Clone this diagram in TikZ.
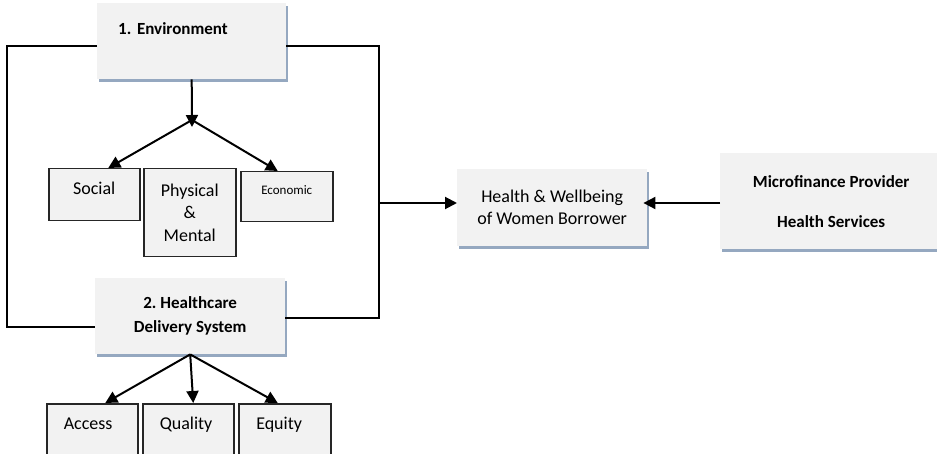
\documentclass[tikz,border=0pt]{standalone}
\usepackage{fontspec}
\setmainfont{Carlito}
\usepackage{xcolor}
\usepackage{tikz}
\usetikzlibrary{arrows.meta, shadows, calc}

\definecolor{boxfill}{HTML}{F2F2F2}
\definecolor{shadowblue}{HTML}{95A8C0}

\begin{document}
\frenchspacing
\begin{tikzpicture}[
    x=1pt, y=-1pt,
    every node/.style={inner sep=0pt},
    mainbox/.style={anchor=north west, fill=boxfill, drop shadow={shadow xshift=2pt, shadow yshift=-3pt, fill=shadowblue, opacity=1}, font=\fontsize{18}{22}\selectfont},
    subbox/.style={anchor=north west, fill=boxfill, draw=black!85, line width=1.5pt, font=\fontsize{18}{22.5}\selectfont},
    hightext/.style={text height=12pt, text depth=12pt},
    lefttext/.style={hightext, text width=57pt, inner xsep=17pt, align=left},
    link/.style={line width=2pt},
    arrow/.style={line width=2pt, -{Triangle[length=12pt, width=12pt]}}
]
\useasboundingbox (0,0) rectangle (937,454);
\clip (0,0) rectangle (937,454);

% Main factors
\node[mainbox, font=\bfseries\fontsize{17}{22}\selectfont, minimum width=189pt, minimum height=76pt, text width=147pt, inner xsep=21pt, align=left, text height=31pt, text depth=45pt] (env) at (97,3) {1. Environment};
\node[mainbox, font=\bfseries\fontsize{17}{24}\selectfont, minimum width=190pt, minimum height=76pt, align=center] (care) at (95,278) {2. Healthcare\\Delivery System};
\node[mainbox, minimum width=190pt, minimum height=77pt, align=center] (health) at (457,169) {Health \& Wellbeing\\of Women Borrower};
\node[mainbox, font=\bfseries\fontsize{17}{22}\selectfont, minimum width=222pt, minimum height=96pt, align=center] (micro) at (720,153) {Microfinance Provider\\[18pt]Health Services};

% Environment parts
\node[subbox, hightext, minimum width=91pt, minimum height=52pt] (social) at (48,168) {Social};
\node[subbox, minimum width=92pt, minimum height=88pt, align=center] (phys) at (143,168) {Physical\\\&\\Mental};
\node[subbox, font=\fontsize{13}{16}\selectfont, minimum width=92pt, minimum height=50pt, text height=10pt, text depth=15pt] (econ) at (240,171) {Economic};

% Healthcare parts
\node[subbox, lefttext, minimum width=91pt, minimum height=52pt] (access) at (46,403) {Access};
\node[subbox, lefttext, minimum width=91pt, minimum height=52pt] (quality) at (142,403) {Quality};
\node[subbox, lefttext, minimum width=92pt, minimum height=52pt] (equity) at (238,403) {Equity};

% Bracket round both factors
\draw[link] (env.west |- 0,46) -| (7,327) -- (care.west |- 0,327);
\draw[link] (env.east |- 0,46) -| (379,318) -- (care.east |- 0,318);

% Into the outcome
\coordinate (join) at (379,203);
\draw[arrow] (join) -- (health.west |- 0,203);
\draw[arrow, shorten >=-4pt] (micro.west |- 0,203) -- (health.east |- 0,203);

% Split arrows
\coordinate (split) at (192,127);
\draw[arrow] (env.south) -- (split);
\draw[arrow] ([yshift=7pt]split) -- ([xshift=14pt]social.north);
\draw[arrow] ([yshift=7pt]split) -- ([xshift=-9pt]econ.north);

\draw[arrow] (care.south) -- ([xshift=13pt]access.north);
\draw[arrow] (care.south) -- ([xshift=5pt]quality.north);
\draw[arrow] (care.south) -- ([xshift=-7pt]equity.north);

\end{tikzpicture}
\end{document}
